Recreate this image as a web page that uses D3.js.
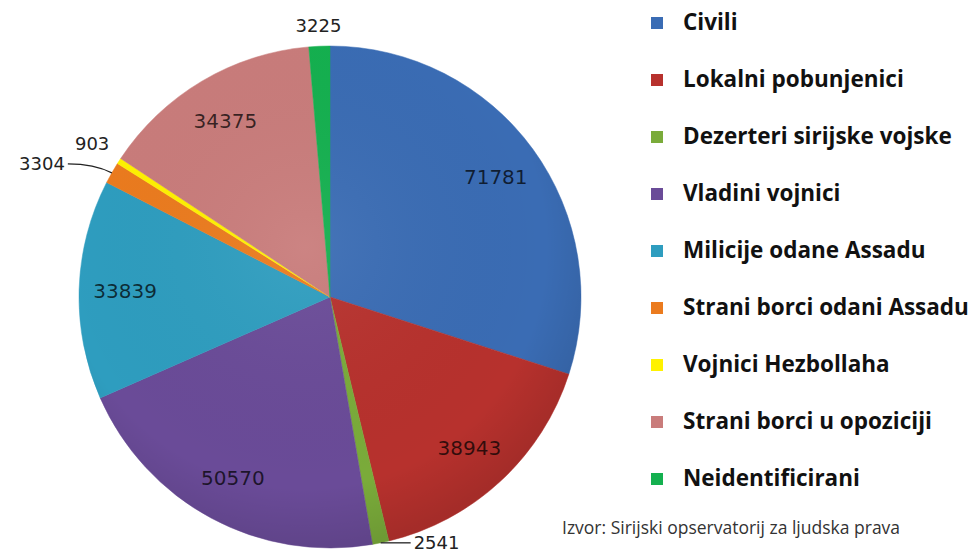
<!DOCTYPE html>
<html>
<head>
<meta charset="utf-8">
<script src="https://cdn.jsdelivr.net/npm/d3@7"></script>
<style>
  body { margin: 0; background: #fff; }
  svg { display: block; }
</style>
</head>
<body>
<script>
// pie of casualties, clockwise from 12 o'clock

var categories = ["Civili", "Lokalni pobunjenici", "Dezerteri sirijske vojske", "Vladini vojnici",
    "Milicije odane Assadu", "Strani borci odani Assadu", "Vojnici Hezbollaha",
    "Strani borci u opoziciji", "Neidentificirani"];
var values = [71781, 38943, 2541, 50570, 33839, 3304, 903, 34375, 3225];
var colors = ["#3a6cb4", "#b7312d", "#7aab3a", "#6a4b98", "#2e9dbf", "#eb7b1e", "#fff200", "#c97c7b", "#14b04f"];
var sourceText = "Izvor: Sirijski opservatorij za ljudska prava";

var width = 973, height = 552;
var cx = 330, cy = 297, radius = 251;

var svg = d3.select("body").append("svg")
    .attr("width", width)
    .attr("height", height);

var defs = svg.append("defs");
var shade = defs.append("radialGradient")
    .attr("id", "shade")
    .attr("cx", "45%").attr("cy", "40%").attr("r", "60%");
shade.append("stop").attr("offset", "0%").attr("stop-color", "#fff").attr("stop-opacity", 0.06);
shade.append("stop").attr("offset", "80%").attr("stop-color", "#000").attr("stop-opacity", 0.0);
shade.append("stop").attr("offset", "100%").attr("stop-color", "#000").attr("stop-opacity", 0.1);

var pie = d3.pie().sort(null).value(function(d) { return d; });
var arcs = pie(values);

var arc = d3.arc().innerRadius(0).outerRadius(radius);
var labelArc = d3.arc().innerRadius(205).outerRadius(205);

var g = svg.append("g").attr("transform", "translate(" + cx + "," + cy + ")");

g.selectAll("path.slice")
    .data(arcs)
    .enter().append("path")
    .attr("class", "slice")
    .attr("d", arc)
    .attr("fill", function(d, i) { return colors[i]; })
    .attr("stroke", function(d, i) { return colors[i]; })
    .attr("stroke-width", 0.5);

g.append("circle").attr("r", radius).attr("fill", "url(#shade)");

// big slices get the number inside
g.selectAll("text.inside")
    .data(arcs.filter(function(d) { return d.value > 10000; }))
    .enter().append("text")
    .attr("class", "inside")
    .attr("transform", function(d) { return "translate(" + labelArc.centroid(d) + ")"; })
    .attr("text-anchor", "middle")
    .attr("dy", "0.36em")
    .style("font-family", "'DejaVu Sans', Verdana, sans-serif")
    .style("font-size", "20px")
    .attr("fill", "#000")
    .attr("fill-opacity", 0.72)
    .text(function(d) { return d.value; });

// small slices: outside, some with a leader line
var small = {
    3225: { r: 272, anchor: "middle", leader: false },
    903: { r: 283, anchor: "middle", leader: false },
    3304: { r: 300, anchor: "end", leader: true, dx: -44, dy: -9 },
    2541: { r: 262, anchor: "start", leader: true, dx: 30, dy: 0 }
};

arcs.filter(function(d) { return d.value < 10000; }).forEach(function(d) {
    var s = small[d.value];
    var mid = (d.startAngle + d.endAngle) / 2;
    var ex = Math.sin(mid) * radius, ey = -Math.cos(mid) * radius;
    var tx, ty;
    if (s.leader) {
        tx = ex + s.dx; ty = ey + s.dy;
        g.append("path")
            .attr("d", "M" + ex + "," + ey + " Q" + (ex + s.dx * 0.4) + "," + (ty) + " " + tx + "," + ty)
            .attr("fill", "none")
            .attr("stroke", "#222")
            .attr("stroke-width", 1.3);
        tx += s.anchor === "end" ? -3 : 3;
    } else {
        tx = Math.sin(mid) * s.r; ty = -Math.cos(mid) * s.r;
    }
    g.append("text")
        .attr("x", tx)
        .attr("y", ty)
        .attr("dy", "0.36em")
        .attr("text-anchor", s.anchor)
        .style("font-family", "'DejaVu Sans', Verdana, sans-serif")
        .style("font-size", "18px")
        .attr("fill", "#222")
        .text(d.value);
});

// legend
var legend = svg.append("g");
var rowY = d3.scalePoint().domain(categories).range([22, 478]);

var rows = legend.selectAll("g.row")
    .data(categories)
    .enter().append("g")
    .attr("class", "row")
    .attr("transform", function(d) { return "translate(651," + rowY(d) + ")"; });

rows.append("rect")
    .attr("x", 0).attr("y", -5)
    .attr("width", 12).attr("height", 12)
    .attr("fill", function(d, i) { return colors[i]; });

rows.append("text")
    .attr("x", 32)
    .attr("y", 0)
    .attr("dy", "0.35em")
    .style("font-family", "'Open Sans', sans-serif")
    .style("font-weight", "700")
    .style("font-size", "22.5px")
    .attr("fill", "#111")
    .text(function(d) { return d; });

svg.append("text")
    .attr("x", 562)
    .attr("y", 534)
    .style("font-family", "'Open Sans', sans-serif")
    .style("font-size", "17.5px")
    .attr("fill", "#333")
    .text(sourceText);
</script>
</body>
</html>
